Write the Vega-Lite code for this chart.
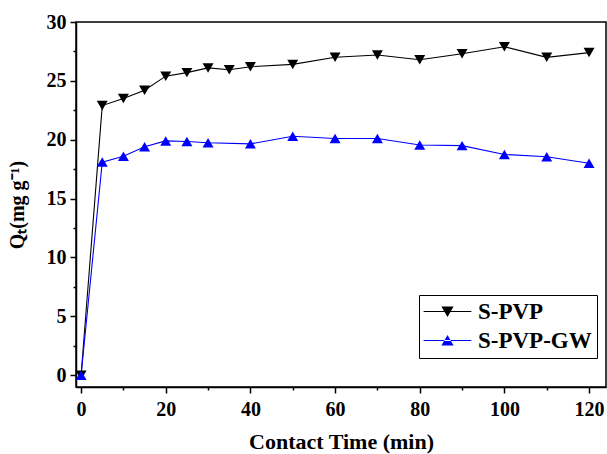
{
  "$schema": "https://vega.github.io/schema/vega-lite/v6.json",
  "width": 530,
  "height": 365,
  "autosize": {"type": "none"},
  "padding": {"left": 76, "top": 22, "right": 1, "bottom": 67},
  "background": "white",
  "config": {
    "view": {"stroke": "black", "strokeWidth": 1.5},
    "axis": {
      "grid": false,
      "domainColor": "black",
      "domainWidth": 1.5,
      "tickColor": "black",
      "tickWidth": 1.5,
      "labelFont": "Liberation Serif",
      "labelFontWeight": "bold",
      "labelFontSize": 20,
      "labelColor": "black",
      "titleFont": "Liberation Serif",
      "titleFontWeight": "bold",
      "titleFontSize": 22,
      "titleColor": "black"
    },
    "legend": {
      "orient": "none",
      "legendX": 343,
      "legendY": 273,
      "strokeColor": "black",
      "fillColor": "white",
      "padding": 5,
      "labelFont": "Liberation Serif",
      "labelFontWeight": "bold",
      "labelFontSize": 23,
      "labelColor": "black",
      "symbolSize": 150,
      "symbolOffset": 12,
      "labelOffset": 19,
      "rowPadding": 5,
      "symbolOpacity": 1
    }
  },
  "data": {
    "values": [
      {"t": 0, "q": 0, "s": "S-PVP"},
      {"t": 5, "q": 22.9, "s": "S-PVP"},
      {"t": 10, "q": 23.5, "s": "S-PVP"},
      {"t": 15, "q": 24.2, "s": "S-PVP"},
      {"t": 20, "q": 25.4, "s": "S-PVP"},
      {"t": 25, "q": 25.7, "s": "S-PVP"},
      {"t": 30, "q": 26.1, "s": "S-PVP"},
      {"t": 35, "q": 25.95, "s": "S-PVP"},
      {"t": 40, "q": 26.2, "s": "S-PVP"},
      {"t": 50, "q": 26.4, "s": "S-PVP"},
      {"t": 60, "q": 27.0, "s": "S-PVP"},
      {"t": 70, "q": 27.2, "s": "S-PVP"},
      {"t": 80, "q": 26.8, "s": "S-PVP"},
      {"t": 90, "q": 27.3, "s": "S-PVP"},
      {"t": 100, "q": 27.9, "s": "S-PVP"},
      {"t": 110, "q": 27.0, "s": "S-PVP"},
      {"t": 120, "q": 27.4, "s": "S-PVP"},
      {"t": 0, "q": 0, "s": "S-PVP-GW"},
      {"t": 5, "q": 18.1, "s": "S-PVP-GW"},
      {"t": 10, "q": 18.6, "s": "S-PVP-GW"},
      {"t": 15, "q": 19.4, "s": "S-PVP-GW"},
      {"t": 20, "q": 19.9, "s": "S-PVP-GW"},
      {"t": 25, "q": 19.85, "s": "S-PVP-GW"},
      {"t": 30, "q": 19.75, "s": "S-PVP-GW"},
      {"t": 40, "q": 19.65, "s": "S-PVP-GW"},
      {"t": 50, "q": 20.3, "s": "S-PVP-GW"},
      {"t": 60, "q": 20.1, "s": "S-PVP-GW"},
      {"t": 70, "q": 20.1, "s": "S-PVP-GW"},
      {"t": 80, "q": 19.55, "s": "S-PVP-GW"},
      {"t": 90, "q": 19.5, "s": "S-PVP-GW"},
      {"t": 100, "q": 18.75, "s": "S-PVP-GW"},
      {"t": 110, "q": 18.55, "s": "S-PVP-GW"},
      {"t": 120, "q": 18.0, "s": "S-PVP-GW"}
    ]
  },
  "encoding": {
    "x": {
      "field": "t",
      "type": "quantitative",
      "scale": {"domain": [-1.2, 124], "nice": false, "zero": false},
      "axis": {
        "title": "Contact Time (min)",
        "values": [0, 10, 20, 30, 40, 50, 60, 70, 80, 90, 100, 110, 120],
        "labelExpr": "datum.value % 20 === 0 ? datum.label : ''",
        "tickSize": {"condition": {"test": "datum.value % 20 === 0", "value": 6}, "value": 3},
        "labelPadding": 6,
        "titlePadding": 12,
        "labelFlush": false
      }
    },
    "y": {
      "field": "q",
      "type": "quantitative",
      "scale": {"domain": [-1, 30], "nice": false, "zero": false},
      "axis": {
        "title": "Qₜ(mg g⁻¹)",
        "titleFontSize": 20,
        "values": [0, 2.5, 5, 7.5, 10, 12.5, 15, 17.5, 20, 22.5, 25, 27.5, 30],
        "labelExpr": "datum.value % 5 === 0 ? datum.label : ''",
        "tickSize": {"condition": {"test": "datum.value % 5 === 0", "value": 6}, "value": 3},
        "labelPadding": 4,
        "titlePadding": 19,
        "labelFlush": false
      }
    }
  },
  "layer": [
    {
      "mark": {"type": "line", "strokeWidth": 1.1},
      "encoding": {
        "color": {
          "field": "s",
          "type": "nominal",
          "scale": {"domain": ["S-PVP", "S-PVP-GW"], "range": ["black", "#0000ff"]},
          "legend": null
        }
      }
    },
    {
      "mark": {"type": "point", "filled": true, "size": 120, "opacity": 1},
      "encoding": {
        "color": {
          "field": "s",
          "type": "nominal",
          "scale": {"domain": ["S-PVP", "S-PVP-GW"], "range": ["black", "#0000ff"]},
          "legend": null
        },
        "shape": {
          "field": "s",
          "type": "nominal",
          "scale": {"domain": ["S-PVP", "S-PVP-GW"], "range": ["triangle-down", "triangle-up"]},
          "legend": null
        }
      }
    },
    {
      "transform": [{"filter": "datum.t < -100"}],
      "mark": {"type": "point", "filled": true, "opacity": 1},
      "encoding": {
        "color": {
          "field": "s",
          "type": "nominal",
          "title": null,
          "scale": {"domain": ["S-PVP", "S-PVP-GW"], "range": ["black", "#0000ff"]}
        },
        "shape": {
          "field": "s",
          "type": "nominal",
          "title": null,
          "scale": {
            "domain": ["S-PVP", "S-PVP-GW"],
            "range": ["M-3.9,-0.09H3.9V0.09H-3.9ZM-1,-0.8L1,-0.8L0,0.9Z", "M-3.9,-0.09H3.9V0.09H-3.9ZM-1,0.8L1,0.8L0,-0.9Z"]
          }
        }
      }
    }
  ],
  "resolve": {"scale": {"shape": "independent", "color": "independent"}}
}
